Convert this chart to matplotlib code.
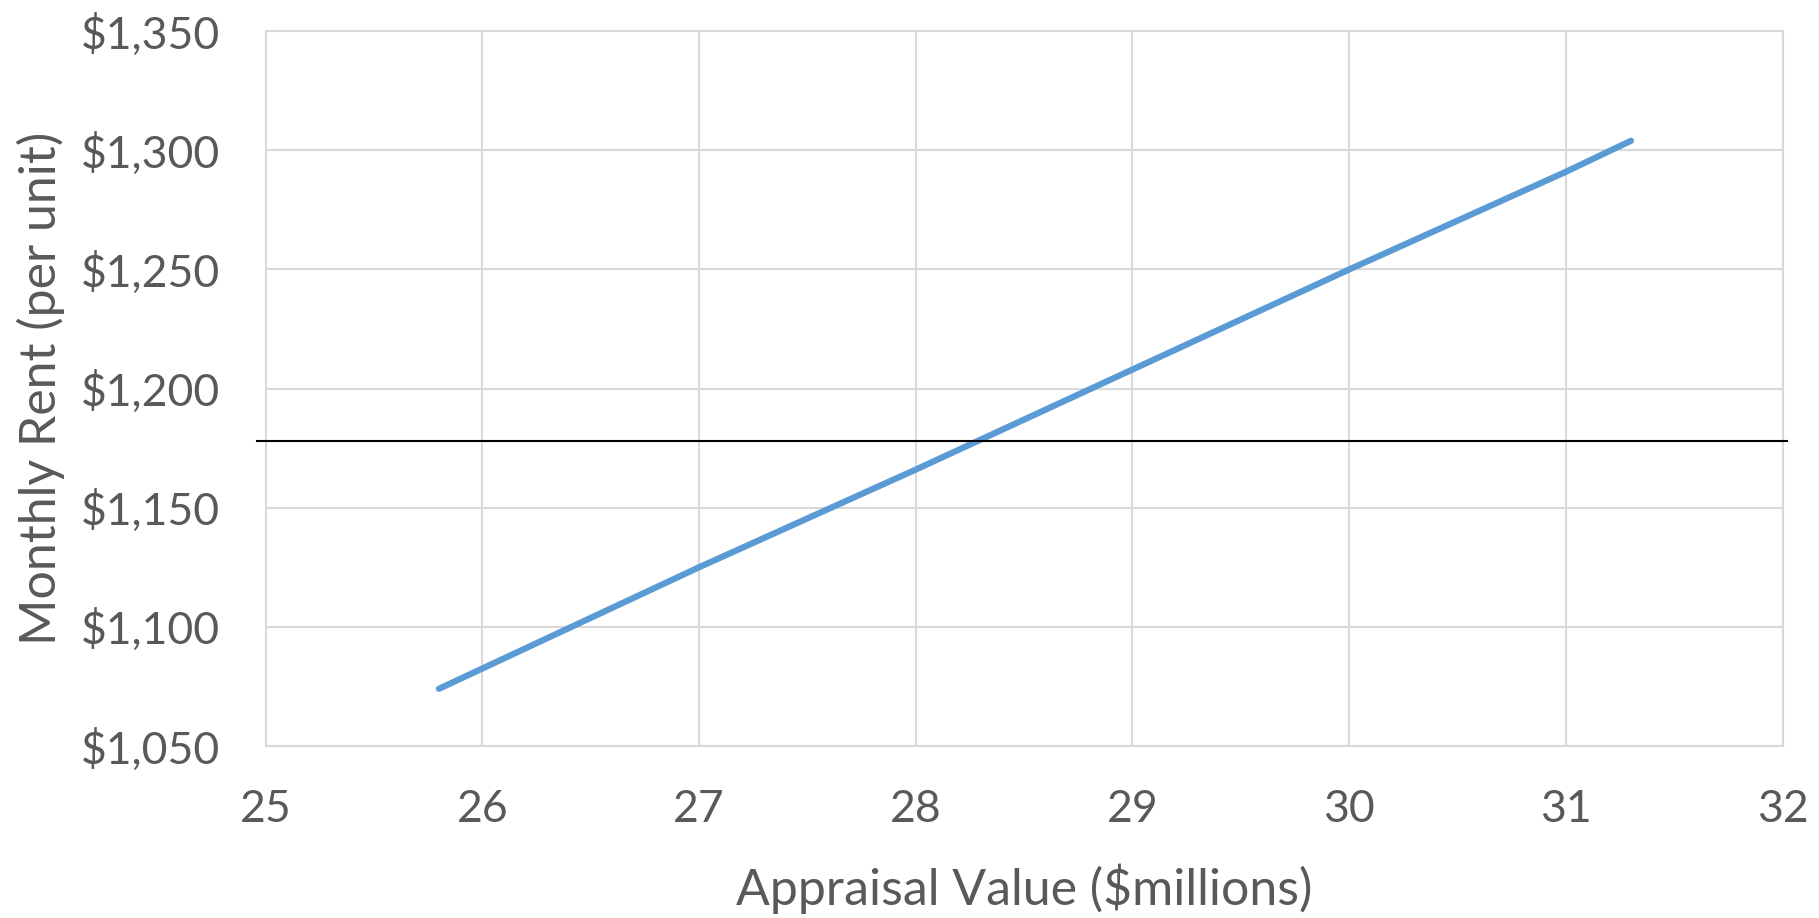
import numpy as np
import matplotlib
matplotlib.use("Agg")
import matplotlib.pyplot as plt
from matplotlib.ticker import FuncFormatter

# data
appraisal = [25.8, 27.0, 28.0, 29.0, 30.0, 31.0, 31.3]
rent = [1074, 1125, 1166, 1208, 1250, 1291, 1304]
market_rent = 1178

x_ticks = [25, 26, 27, 28, 29, 30, 31, 32]
y_ticks = [1050, 1100, 1150, 1200, 1250, 1300, 1350]

text_grey = "#595959"
grid_grey = "#d9d9d9"
line_blue = "#5b9bd5"

plt.rcParams['font.family'] = ['Lato', 'DejaVu Sans']

fig = plt.figure(figsize=(18.19, 9.18), dpi=100)
ax = fig.add_axes([0.146, 0.1874, 0.834, 0.7786])

ax.plot(appraisal, rent, color=line_blue, linewidth=4.5, solid_capstyle="round", zorder=3)
ax.plot([24.96, 32.02], [market_rent, market_rent], color="black", linewidth=1.5,
        clip_on=False, zorder=4)

ax.set_xlim(25, 32)
ax.set_ylim(1050, 1350)
ax.set_xticks(x_ticks)
ax.set_yticks(y_ticks)
ax.yaxis.set_major_formatter(FuncFormatter(lambda v, p: "${:,.0f}".format(v)))
ax.grid(True, color=grid_grey, linewidth=1.5, zorder=0)
ax.set_axisbelow(True)
for s in ax.spines.values():
    s.set_color(grid_grey)
    s.set_linewidth(1.5)
ax.tick_params(axis="both", length=0, labelsize=32, labelcolor=text_grey)
ax.tick_params(axis="y", pad=33)
ax.tick_params(axis="x", pad=31)

ax.set_xlabel("Appraisal Value ($millions)", fontsize=36, color=text_grey, labelpad=24)
ax.set_ylabel("Monthly Rent (per unit)", fontsize=36, color=text_grey, labelpad=11)

fig.savefig("out.png", dpi=100, facecolor="white")
